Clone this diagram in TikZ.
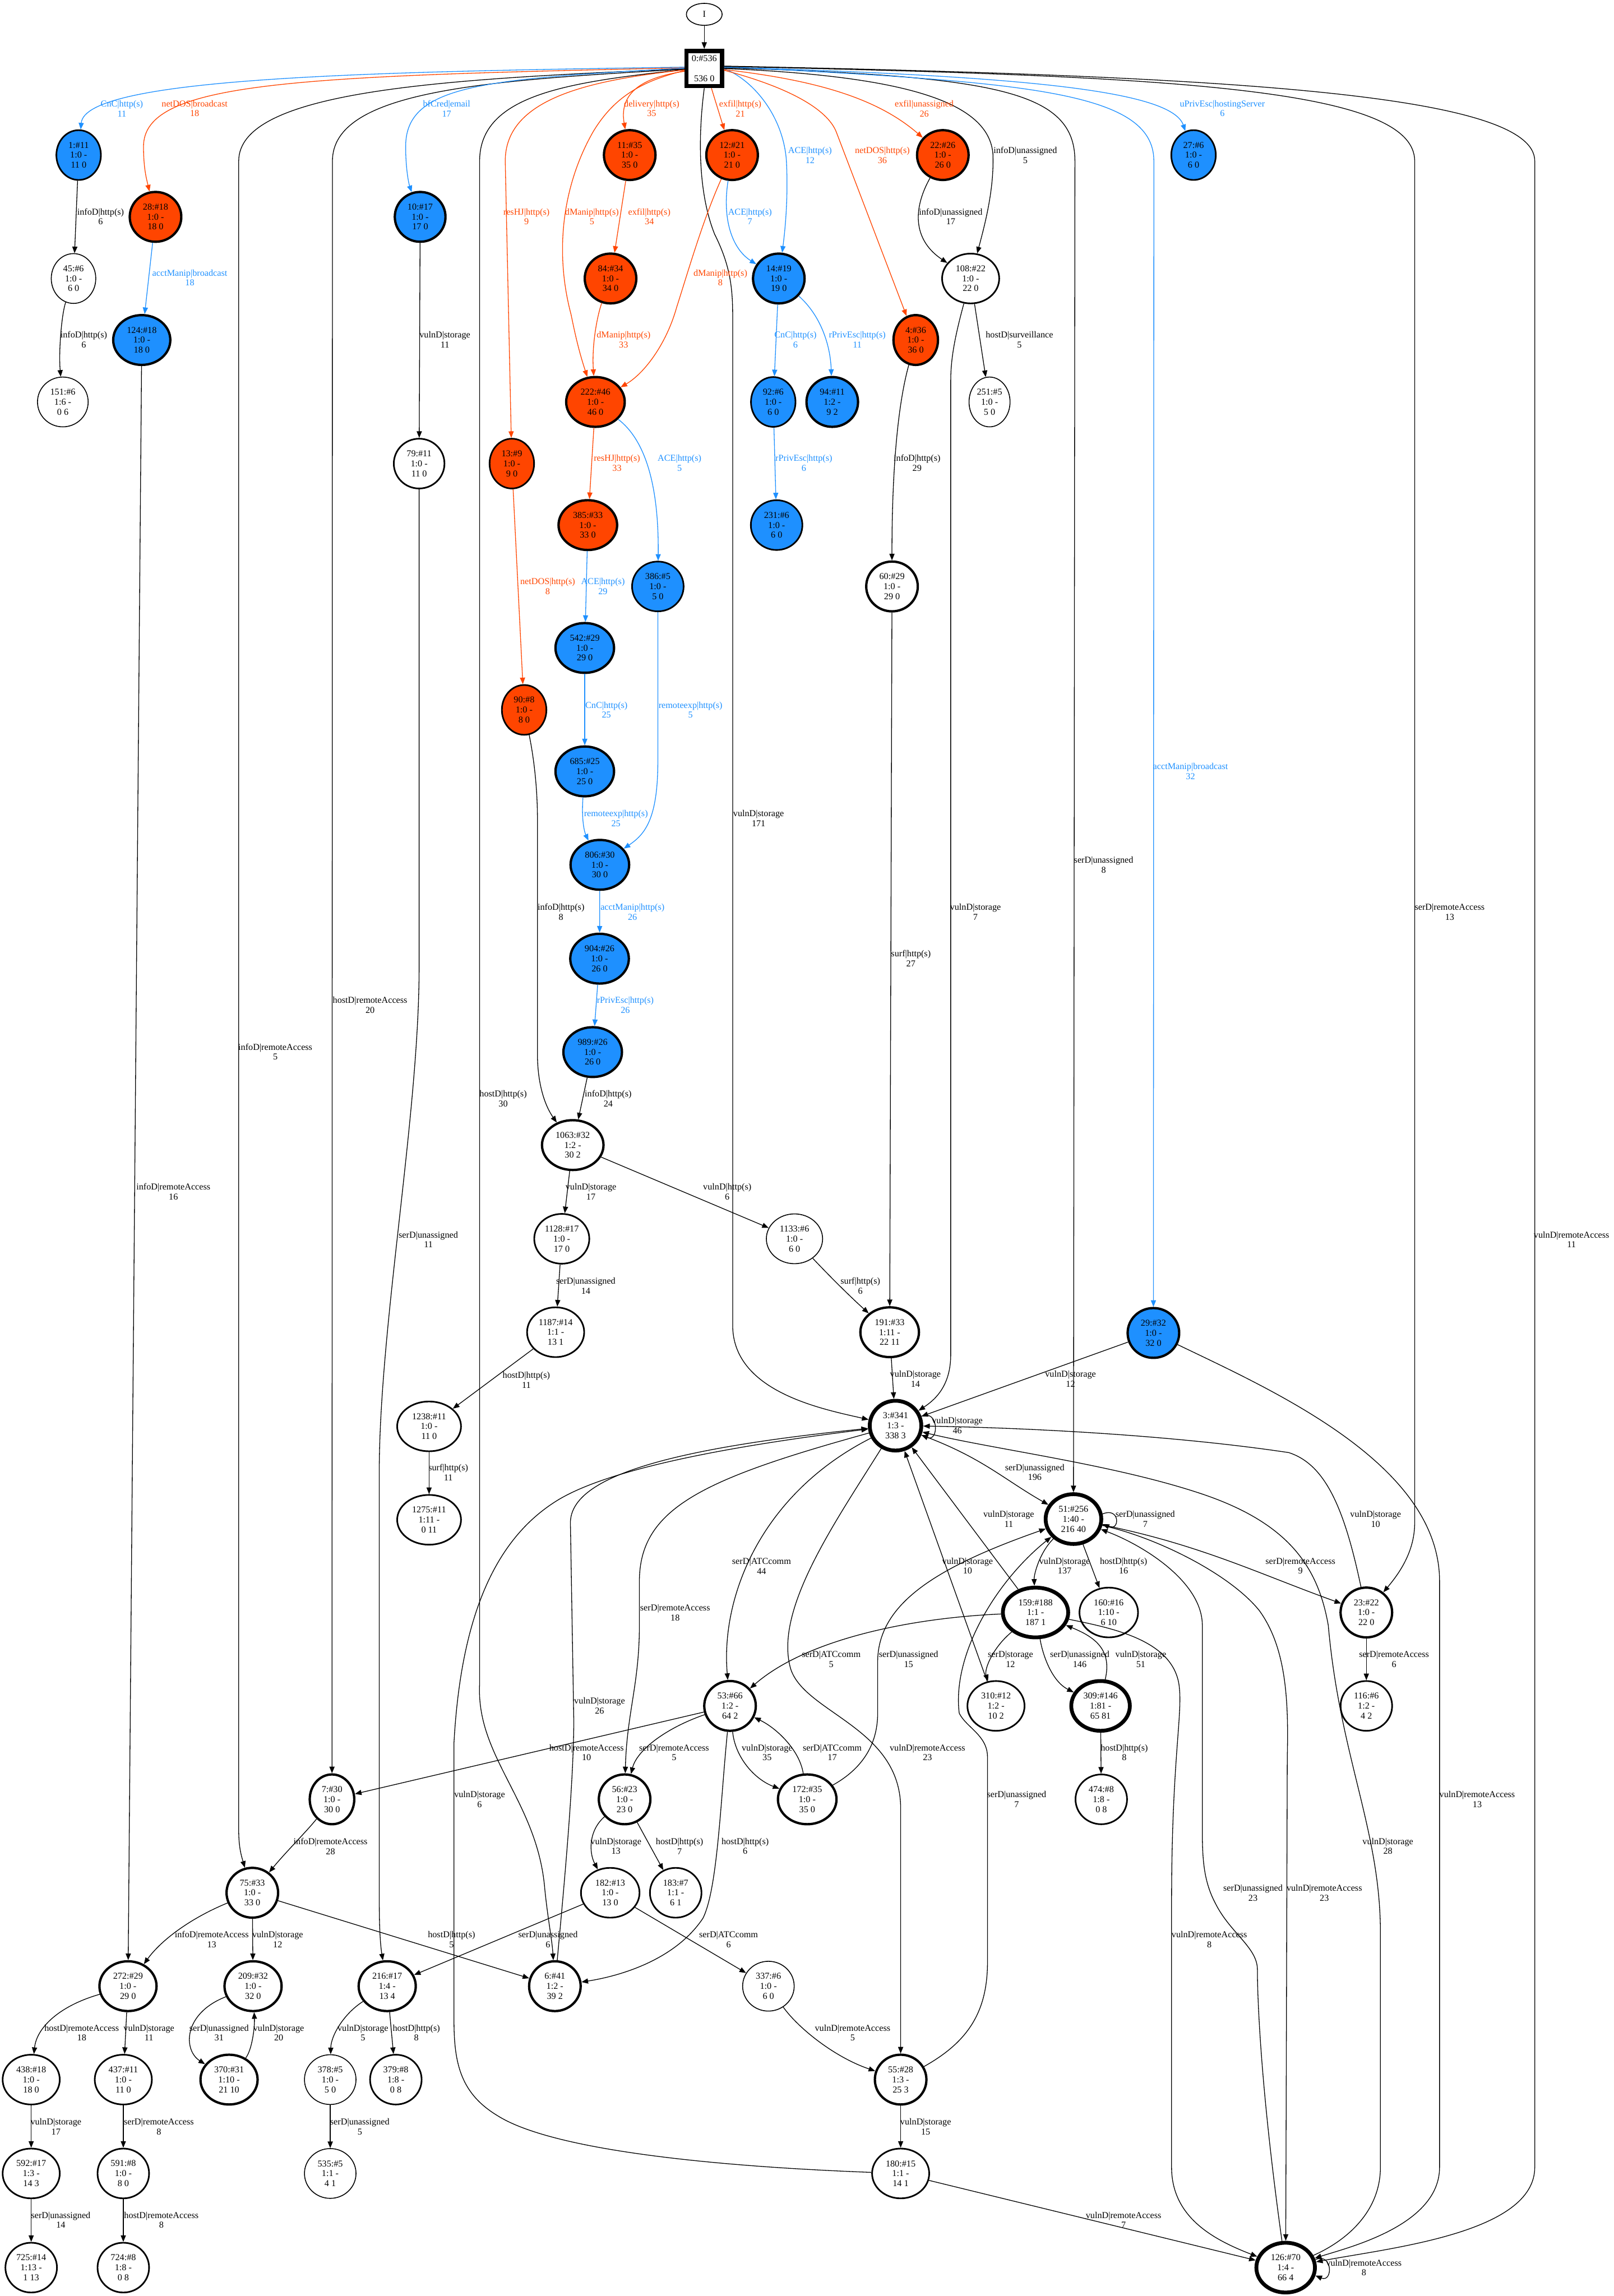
\documentclass[tikz,border=0pt]{standalone}
\usepackage{fontspec}
\setmainfont{Liberation Serif}
\usetikzlibrary{arrows.meta,shapes.geometric}
\definecolor{dblue}{HTML}{1E90FF}
\definecolor{ored}{HTML}{FF4500}
\newcommand\nfont{\fontsize{6.2}{6.8}\selectfont}
\begin{document}
\begin{tikzpicture}[x=1pt,y=-1pt,
 gn/.style={ellipse,draw,inner sep=0pt,minimum height=34pt,align=center,font=\nfont},
 fb/.style={fill=dblue}, fo/.style={fill=ored}, fw/.style={fill=white},
 w1/.style={line width=0.6pt}, w2/.style={line width=1.1pt}, w3/.style={line width=1.6pt}, w4/.style={line width=2.6pt},
 ed/.style={line width=0.5pt,-{Triangle[length=4.5pt,width=3.5pt]}},
 edb/.style={ed,color=dblue}, edo/.style={ed,color=ored},
 lb/.style={align=center,inner sep=0pt,font=\nfont},
 lbb/.style={lb,text=dblue}, lbo/.style={lb,text=ored}]
\useasboundingbox (0,0) rectangle (1102,1568);
% ---------- nodes
\node[draw,line width=0.6pt,ellipse,inner sep=0pt,minimum width=24.4pt,minimum height=15pt,font=\nfont] (nI) at (480.9,9.8) {I};
\node[draw,line width=2.9pt,rectangle,inner sep=0pt,minimum width=24.2pt,minimum height=24pt,align=center,font=\nfont] (n0) at (480.9,46.8) {0:\#536\\[6.8pt]536 0};
\node[gn,fb,w2,minimum width=30.4pt] (n1) at (53.7,105.9) {1:\#11\\1:0 -\\11 0};
\node[gn,fo,w3,minimum width=35.2pt] (n28) at (106.2,148.1) {28:\#18\\1:0 -\\18 0};
\node[gn,fw,w1,minimum width=30.4pt] (n45) at (50.2,190.2) {45:\#6\\1:0 -\\6 0};
\node[gn,fb,w3,minimum width=39pt] (n124) at (96.8,232.2) {124:\#18\\1:0 -\\18 0};
\node[gn,fw,w1,minimum width=34.6pt] (n151) at (42.9,274.5) {151:\#6\\1:6 -\\0 6};
\node[gn,fb,w3,minimum width=34.6pt] (n10) at (286.9,148.1) {10:\#17\\1:0 -\\17 0};
\node[gn,fw,w2,minimum width=34.6pt] (n79) at (286.2,316.6) {79:\#11\\1:0 -\\11 0};
\node[gn,fo,w2,minimum width=30.4pt] (n13) at (349.5,316.6) {13:\#9\\1:0 -\\9 0};
\node[gn,fo,w3,minimum width=35.2pt] (n11) at (430.0,105.9) {11:\#35\\1:0 -\\35 0};
\node[gn,fo,w3,minimum width=35.2pt] (n12) at (499.9,105.9) {12:\#21\\1:0 -\\21 0};
\node[gn,fo,w3,minimum width=35.2pt] (n22) at (643.8,105.9) {22:\#26\\1:0 -\\26 0};
\node[gn,fo,w3,minimum width=35.2pt] (n84) at (416.9,190.2) {84:\#34\\1:0 -\\34 0};
\node[gn,fb,w3,minimum width=35.2pt] (n14) at (531.8,190.2) {14:\#19\\1:0 -\\19 0};
\node[gn,fw,w2,minimum width=39pt] (n108) at (662.8,190.2) {108:\#22\\1:0 -\\22 0};
\node[gn,fo,w3,minimum width=30.4pt] (n4) at (625.3,232.2) {4:\#36\\1:0 -\\36 0};
\node[gn,fo,w3,minimum width=40pt] (n222) at (406.6,274.5) {222:\#46\\1:0 -\\46 0};
\node[gn,fb,w2,minimum width=30.4pt] (n92) at (528,274.5) {92:\#6\\1:0 -\\6 0};
\node[gn,fb,w3,minimum width=35.2pt] (n94) at (568.3,274.5) {94:\#11\\1:2 -\\9 2};
\node[gn,fw,w1,minimum width=28pt] (n251) at (675.7,274.5) {251:\#5\\1:0 -\\5 0};
\node[gn,fo,w3,minimum width=40pt] (n385) at (401.4,358.6) {385:\#33\\1:0 -\\33 0};
\node[gn,fb,w2,minimum width=35.2pt] (n231) at (530.3,358.6) {231:\#6\\1:0 -\\6 0};
\node[gn,fb,w2,minimum width=30.4pt] (n27) at (815.0,105.9) {27:\#6\\1:0 -\\6 0};
\node[gn,fb,w2,minimum width=35.2pt] (n386) at (449.2,400.5) {386:\#5\\1:0 -\\5 0};
\node[gn,fw,w3,minimum width=35.2pt] (n60) at (609.1,400.5) {60:\#29\\1:0 -\\29 0};
\node[gn,fo,w2,minimum width=30.4pt] (n90) at (357.9,484.8) {90:\#8\\1:0 -\\8 0};
\node[gn,fb,w3,minimum width=40pt] (n542) at (399.3,442.5) {542:\#29\\1:0 -\\29 0};
\node[gn,fb,w3,minimum width=40pt] (n685) at (399.3,526.8) {685:\#25\\1:0 -\\25 0};
\node[gn,fb,w3,minimum width=40pt] (n806) at (409.6,590.6) {806:\#30\\1:0 -\\30 0};
\node[gn,fb,w3,minimum width=40pt] (n904) at (409.4,654.7) {904:\#26\\1:0 -\\26 0};
\node[gn,fb,w3,minimum width=40pt] (n989) at (404.7,718.5) {989:\#26\\1:0 -\\26 0};
\node[gn,fw,w3,minimum width=42pt] (n1063) at (391.1,782.0) {1063:\#32\\1:2 -\\30 2};
\node[gn,fw,w2,minimum width=37.6pt] (n1128) at (383.6,846.0) {1128:\#17\\1:0 -\\17 0};
\node[gn,fw,w1,minimum width=38.4pt] (n1133) at (542.5,846.0) {1133:\#6\\1:0 -\\6 0};
\node[gn,fw,w2,minimum width=39pt] (n1187) at (379.4,909.8) {1187:\#14\\1:1 -\\13 1};
\node[gn,fw,w3,minimum width=40pt] (n191) at (607.5,909.8) {191:\#33\\1:11 -\\22 11};
\node[gn,fw,w2,minimum width=43.6pt] (n1238) at (293.0,974.1) {1238:\#11\\1:0 -\\11 0};
\node[gn,fw,w2,minimum width=43.6pt] (n1275) at (293.0,1037.9) {1275:\#11\\1:11 -\\0 11};
\node[gn,fb,w3,minimum width=35.2pt] (n29) at (787.6,910.3) {29:\#32\\1:0 -\\32 0};
\node[gn,fw,w4,minimum width=35.2pt] (n3) at (611.5,973.6) {3:\#341\\1:3 -\\338 3};
\node[gn,fw,w4,minimum width=38pt] (n51) at (733,1037.4) {51:\#256\\1:40 -\\216 40};
\node[gn,fw,w4,minimum width=44.6pt] (n159) at (707.1,1101.2) {159:\#188\\1:1 -\\187 1};
\node[gn,fw,w2,minimum width=40pt] (n160) at (757.1,1101.2) {160:\#16\\1:10 -\\6 10};
\node[gn,fw,w3,minimum width=35.2pt] (n23) at (933.0,1101.2) {23:\#22\\1:0 -\\22 0};
\node[gn,fw,w3,minimum width=35.2pt] (n53) at (498.5,1165.0) {53:\#66\\1:2 -\\64 2};
\node[gn,fw,w2,minimum width=39pt] (n310) at (680.1,1165.0) {310:\#12\\1:2 -\\10 2};
\node[gn,fw,w4,minimum width=40pt] (n309) at (751.5,1165.0) {309:\#146\\1:81 -\\65 81};
\node[gn,fw,w2,minimum width=35.2pt] (n116) at (933.0,1165.0) {116:\#6\\1:2 -\\4 2};
\node[gn,fw,w3,minimum width=30.4pt] (n7) at (226.7,1228.8) {7:\#30\\1:0 -\\30 0};
\node[gn,fw,w3,minimum width=35.2pt] (n56) at (426.5,1228.8) {56:\#23\\1:0 -\\23 0};
\node[gn,fw,w3,minimum width=40pt] (n172) at (551.2,1228.8) {172:\#35\\1:0 -\\35 0};
\node[gn,fw,w2,minimum width=35.2pt] (n474) at (752.0,1228.8) {474:\#8\\1:8 -\\0 8};
\node[gn,fw,w3,minimum width=35.2pt] (n75) at (172.3,1292.6) {75:\#33\\1:0 -\\33 0};
\node[gn,fw,w2,minimum width=40pt] (n182) at (416.7,1292.6) {182:\#13\\1:0 -\\13 0};
\node[gn,fw,w2,minimum width=35.2pt] (n183) at (461.4,1292.6) {183:\#7\\1:1 -\\6 1};
\node[gn,fw,w3,minimum width=39pt] (n272) at (87.4,1356.4) {272:\#29\\1:0 -\\29 0};
\node[gn,fw,w3,minimum width=39pt] (n209) at (172.8,1356.4) {209:\#32\\1:0 -\\32 0};
\node[gn,fw,w3,minimum width=39pt] (n216) at (264.4,1356.4) {216:\#17\\1:4 -\\13 4};
\node[gn,fw,w3,minimum width=35.2pt] (n6) at (378.9,1356.4) {6:\#41\\1:2 -\\39 2};
\node[gn,fw,w1,minimum width=35.2pt] (n337) at (524.7,1356.4) {337:\#6\\1:0 -\\6 0};
\node[gn,fw,w2,minimum width=39pt] (n438) at (21.3,1420.2) {438:\#18\\1:0 -\\18 0};
\node[gn,fw,w2,minimum width=39pt] (n437) at (84.2,1420.2) {437:\#11\\1:0 -\\11 0};
\node[gn,fw,w3,minimum width=39pt] (n370) at (156.4,1420.2) {370:\#31\\1:10 -\\21 10};
\node[gn,fw,w1,minimum width=35.2pt] (n378) at (225.5,1420.2) {378:\#5\\1:0 -\\5 0};
\node[gn,fw,w2,minimum width=35.2pt] (n379) at (270.3,1420.2) {379:\#8\\1:8 -\\0 8};
\node[gn,fw,w3,minimum width=35.2pt] (n55) at (615.0,1420.2) {55:\#28\\1:3 -\\25 3};
\node[gn,fw,w2,minimum width=39pt] (n592) at (21.3,1484.3) {592:\#17\\1:3 -\\14 3};
\node[gn,fw,w2,minimum width=35.2pt] (n591) at (84.2,1484.3) {591:\#8\\1:0 -\\8 0};
\node[gn,fw,w1,minimum width=35.2pt] (n535) at (225.5,1484.3) {535:\#5\\1:1 -\\4 1};
\node[gn,fw,w2,minimum width=39pt] (n180) at (615.0,1484.3) {180:\#15\\1:1 -\\14 1};
\node[gn,fw,w2,minimum width=35.2pt] (n725) at (21.3,1548.6) {725:\#14\\1:13 -\\1 13};
\node[gn,fw,w2,minimum width=35.2pt] (n724) at (84.2,1548.6) {724:\#8\\1:8 -\\0 8};
\node[gn,fw,w4,minimum width=40pt] (n126) at (877.9,1548.6) {126:\#70\\1:4 -\\66 4};
% ---------- edges from root
\draw[ed] (nI) -- (n0);
\draw[edb] (n0.176) .. controls (250,49) and (58,53) .. (n1);
\draw[edo] (n0.178) .. controls (200,52) and (98,56) .. (98,100) .. controls (98,115) and (100,122) .. (n28);
\draw[ed] (n0.181) .. controls (300,54) and (163,62) .. (163,110) -- (163,1250) .. controls (163,1262) and (165,1268) .. (n75);
\draw[ed] (n0.182) .. controls (330,55) and (227,62) .. (227,110) -- (n7);
\draw[edb] (n0.179) .. controls (330,54) and (277,58) .. (277,100) .. controls (277,115) and (279,125) .. (n10);
\draw[ed] (n0.183) .. controls (390,56) and (327.5,64) .. (327.5,110) -- (327.5,1150) .. controls (325,1200) and (367,1230) .. (372,1290) .. controls (374,1310) and (377,1325) .. (n6);
\draw[edo] (n0.184) .. controls (400,55) and (345,68) .. (345,110) -- (n13);
\draw[edo] (n0.186) .. controls (440,55) and (420,65) .. (405,90) .. controls (385,125) and (378,170) .. (390,215) .. controls (394,235) and (397,245) .. (n222);
\draw[edo] (n0.188) .. controls (445,52) and (422,60) .. (n11);
\draw[ed] (n0.south) .. controls (477,90) and (476,130) .. (488,160) .. controls (498,180) and (500.3,195) .. (500.3,215) -- (500.3,905) .. controls (500.3,950) and (560,962) .. (n3);
\draw[edo] (n0.-70) -- (n12);
\draw[edb] (n0.east) .. controls (515,55) and (535,80) .. (537,110) .. controls (538,130) and (537,150) .. (n14);
\draw[edo] (n0.-5) .. controls (540,60) and (565,75) .. (571,90) -- (n4);
\draw[edo] (n0.-3) .. controls (560,55) and (600,68) .. (n22);
\draw[ed] (n0.0) .. controls (620,52) and (675,70) .. (678,105) .. controls (679,130) and (672,155) .. (n108);
\draw[ed] (n0.2) .. controls (680,52) and (734,62) .. (734,110) -- (n51);
\draw[edb] (n0.4) .. controls (700,52) and (800,62) .. (n27);
\draw[edb] (n0.5) .. controls (700,56) and (787.9,62) .. (787.9,110) -- (n29);
\draw[ed] (n0.6) .. controls (800,52) and (966,60) .. (966,110) -- (966,1040) .. controls (966,1060) and (955,1075) .. (n23);
\draw[ed] (n0.7) .. controls (850,52) and (1048,65) .. (1048,110) -- (1048,1480) .. controls (1048,1525) and (950,1535) .. (n126);
% ---------- upper edges
\draw[ed] (n1) -- (n45);
\draw[ed] (n45) .. controls (42,215) and (40,240) .. (n151);
\draw[edb] (n28) -- (n124);
\draw[ed] (n124) -- (n272);
\draw[ed] (n10) -- (n79);
\draw[ed] (n79) -- (286.2,660) .. controls (286.2,760) and (260,900) .. (259,1000) -- (259,1300) .. controls (259,1320) and (260,1330) .. (n216);
\draw[edo] (n13) -- (n90);
\draw[ed] (n90) .. controls (365,520) and (367,540) .. (367,560) -- (367,720) .. controls (367,740) and (372,755) .. (n1063);
\draw[edo] (n11) -- (n84);
\draw[edo] (n84) .. controls (408,215) and (404,235) .. (n222);
\draw[edo] (n12) .. controls (480,150) and (470,185) .. (462,210) .. controls (455,235) and (440,255) .. (n222);
\draw[edb] (n12) .. controls (493,150) and (500,170) .. (n14);
\draw[edb] (n14) -- (n92);
\draw[edb] (n14) .. controls (560,215) and (567,235) .. (n94);
\draw[edb] (n92) -- (n231);
\draw[ed] (n22) .. controls (622,145) and (625,165) .. (n108);
\draw[ed] (n108) -- (n251);
\draw[ed] (n108) .. controls (652,230) and (649.2,245) .. (649.2,260) -- (649.2,925) .. controls (649.2,945) and (640,955) .. (n3);
\draw[ed] (n4) .. controls (612,280) and (609,330) .. (n60);
\draw[edo] (n222) -- (n385);
\draw[edb] (n222) .. controls (440,300) and (450,330) .. (n386);
\draw[edb] (n385) -- (n542);
\draw[edb] (n542) -- (n685);
\draw[edb] (n685) .. controls (397,560) and (399,568) .. (n806);
\draw[edb] (n386) -- (449.2,520) .. controls (449.2,560) and (440,570) .. (n806);
\draw[edb] (n806) -- (n904);
\draw[edb] (n904) -- (n989);
\draw[ed] (n989) -- (n1063);
\draw[ed] (n60) -- (n191);
\draw[ed] (n1063) -- (n1128);
\draw[ed] (n1063) -- (n1133);
\draw[ed] (n1128) -- (n1187);
\draw[ed] (n1133) .. controls (565,870) and (580,885) .. (n191);
\draw[ed] (n1187) -- (n1238);
\draw[ed] (n1238) -- (n1275);
\draw[ed] (n191) -- (n3);
\draw[ed] (n29) -- (n3);
\draw[ed] (n29) .. controls (870,950) and (983,1000) .. (983,1080) -- (983,1480) .. controls (983,1520) and (920,1535) .. (n126);
% ---------- middle cluster
\draw[ed] (n3.20) .. controls +(12,-5) and +(12,5) .. (n3.-20);
\draw[ed] (n3) .. controls (670,995) and (685,1010) .. (n51);
\draw[ed] (n159) -- (n3);
\draw[ed] (n310) -- (n3);
\draw[ed] (n159) .. controls (678,1125) and (672,1140) .. (n310);
\draw[ed] (n51) .. controls (710,1060) and (706,1075) .. (n159);
\draw[ed] (n51.10) .. controls +(12,-5) and +(12,5) .. (n51.-10);
\draw[ed] (n51) -- (n160);
\draw[ed] (n51) .. controls (820,1055) and (860,1075) .. (n23);
\draw[ed] (n23) .. controls (918,1030) and (905,1000) .. (880,992) .. controls (800,980) and (700,975) .. (n3);
\draw[ed] (n23) -- (n116);
\draw[ed] (n159) .. controls (620,1105) and (550,1120) .. (n53);
\draw[ed] (n159) .. controls (712,1130) and (718,1148) .. (n309);
\draw[ed] (n309.80) .. controls (760,1125) and (745,1117) .. (n159);
\draw[ed] (n309) -- (n474);
\draw[ed] (n3) .. controls (520,1020) and (492,1090) .. (n53);
\draw[ed] (n3) .. controls (480,1010) and (436.6,1030) .. (436.6,1080) -- (436.6,1110) .. controls (436.6,1150) and (428,1170) .. (n56);
\draw[ed] (n6) .. controls (384,1300) and (391.8,1220) .. (391.8,1175) -- (389.5,1040) .. controls (389.5,1010) and (450,990) .. (n3);
\draw[ed] (n180) .. controls (500,1480) and (380,1470) .. (340,1445) .. controls (315,1430) and (310,1410) .. (310,1380) -- (310,1190) .. controls (315,1100) and (340,1050) .. (380,1025) .. controls (420,1000) and (520,985) .. (n3);
\draw[ed] (n3) .. controls (570,1040) and (528,1100) .. (540,1140) .. controls (550,1170) and (615,1180) .. (615,1235) -- (n55);
\draw[ed] (n172) .. controls (585,1210) and (599.3,1195) .. (599.3,1170) -- (599.3,1135) .. controls (599.3,1095) and (640,1070) .. (n51);
\draw[ed] (n55) .. controls (660,1395) and (674.3,1375) .. (674.3,1340) -- (674.3,1200) .. controls (674.3,1185) and (660,1180) .. (655,1170) .. controls (650,1130) and (680,1080) .. (n51);
\draw[ed] (n53) -- (n7);
\draw[ed] (n53) .. controls (455,1180) and (435,1195) .. (n56);
\draw[ed] (n53) .. controls (502,1200) and (515,1215) .. (n172);
\draw[ed] (n172) .. controls (546,1195) and (530,1180) .. (n53);
\draw[ed] (n53) .. controls (492,1230) and (490,1290) .. (480,1310) .. controls (460,1340) and (420,1350) .. (n6);
\draw[ed] (n56) .. controls (402,1250) and (402,1265) .. (n182);
\draw[ed] (n56) -- (n183);
\draw[ed] (n182) -- (n216);
\draw[ed] (n182) -- (n337);
\draw[ed] (n337) .. controls (545,1385) and (570,1405) .. (n55);
\draw[ed] (n55) -- (n180);
\draw[ed] (n180) -- (n126);
\draw[ed] (n126.15) .. controls +(12,-5) and +(12,5) .. (n126.-15);
\draw[ed] (n126) .. controls (860,1420) and (858.6,1360) .. (858.6,1345) .. controls (858.6,1330) and (840,1320) .. (830,1300) .. controls (822,1285) and (821,1270) .. (821,1250) -- (821,1110) .. controls (821,1080) and (780,1055) .. (n51);
\draw[ed] (n51) .. controls (790,1050) and (840,1075) .. (860,1100) .. controls (878,1125) and (880,1160) .. (879,1200) -- (n126);
\draw[ed] (n159) .. controls (760,1112) and (800,1120) .. (805,1150) .. controls (808,1170) and (800,1200) .. (800,1300) -- (800,1480) .. controls (800,1515) and (830,1530) .. (n126);
\draw[ed] (n126) .. controls (920,1530) and (942.6,1510) .. (942.6,1480) -- (942.6,1320) .. controls (942.6,1250) and (915,1200) .. (907,1110) .. controls (900,1070) and (880,1040) .. (820,1020) .. controls (760,1000) and (680,990) .. (n3);
% ---------- lower left
\draw[ed] (n7) .. controls (210,1250) and (195,1265) .. (n75);
\draw[ed] (n75) .. controls (130,1310) and (110,1325) .. (n272);
\draw[ed] (n75) -- (n209);
\draw[ed] (n75) -- (n6);
\draw[ed] (n272) .. controls (40,1370) and (25,1385) .. (n438);
\draw[ed] (n272) -- (n437);
\draw[ed] (n209) .. controls (125,1375) and (125,1400) .. (n370);
\draw[ed] (n370) .. controls (172,1400) and (174,1385) .. (n209);
\draw[ed] (n216) .. controls (235,1375) and (226,1390) .. (n378);
\draw[ed] (n216) -- (n379);
\draw[ed] (n438) -- (n592);
\draw[ed] (n592) -- (n725);
\draw[ed] (n437) -- (n591);
\draw[ed] (n591) -- (n724);
\draw[ed] (n378) -- (n535);
% ---------- labels
\node[lbb] (l1) at (83.2,74.1) {CnC|http(s)\\11};
\node[lbo] (l2) at (132.9,74.1) {netDOS|broadcast\\18};
\node[lb] (l3) at (68.7,147.9) {infoD|http(s)\\6};
\node[lbb] (l4) at (129.6,189.7) {acctManip|broadcast\\18};
\node[lb] (l5) at (57.2,232) {infoD|http(s)\\6};
\node[lbb] (l6) at (305,74.1) {bfCred|email\\17};
\node[lb] (l7) at (303.8,232) {vulnD|storage\\11};
\node[lbo] (l8) at (359.5,147.9) {resHJ|http(s)\\9};
\node[lbo] (l9) at (445,74.1) {delivery|http(s)\\35};
\node[lbo] (l10) at (505.5,74.1) {exfil|http(s)\\21};
\node[lbo] (l11) at (631.1,74.1) {exfil|unassigned\\26};
\node[lbb] (l12) at (553.1,105.9) {ACE|http(s)\\12};
\node[lbo] (l13) at (602.5,105.9) {netDOS|http(s)\\36};
\node[lb] (l14) at (700.1,105.9) {infoD|unassigned\\5};
\node[lbo] (l15) at (404.2,147.9) {dManip|http(s)\\5};
\node[lbo] (l16) at (443.4,147.9) {exfil|http(s)\\34};
\node[lbb] (l17) at (512.1,147.9) {ACE|http(s)\\7};
\node[lb] (l18) at (649.2,147.9) {infoD|unassigned\\17};
\node[lbo] (l19) at (491.9,189.7) {dManip|http(s)\\8};
\node[lbo] (l20) at (425.8,232) {dManip|http(s)\\33};
\node[lbb] (l21) at (543.2,232) {CnC|http(s)\\6};
\node[lbb] (l22) at (585.4,232) {rPrivEsc|http(s)\\11};
\node[lb] (l23) at (696.1,232) {hostD|surveillance\\5};
\node[lbo] (l24) at (421.3,316.1) {resHJ|http(s)\\33};
\node[lbb] (l25) at (464,316.1) {ACE|http(s)\\5};
\node[lbb] (l26) at (548.9,316.1) {rPrivEsc|http(s)\\6};
\node[lb] (l27) at (626.2,316.1) {infoD|http(s)\\29};
\node[lbb] (l28) at (834.7,74.1) {uPrivEsc|hostingServer\\6};
\node[lbo] (l29) at (374,400.5) {netDOS|http(s)\\8};
\node[lbb] (l30) at (411.7,400.5) {ACE|http(s)\\29};
\node[lbb] (l31) at (414.1,484.8) {CnC|http(s)\\25};
\node[lbb] (l32) at (471.5,484.8) {remoteexp|http(s)\\5};
\node[lbb] (l33) at (420.6,558.9) {remoteexp|http(s)\\25};
\node[lb] (l34) at (518,558.9) {vulnD|storage\\171};
\node[lb] (l35) at (383.1,622.7) {infoD|http(s)\\8};
\node[lbb] (l36) at (431.9,622.7) {acctManip|http(s)\\26};
\node[lb] (l37) at (666.1,622.7) {vulnD|storage\\7};
\node[lb] (l38) at (622,654.5) {surf|http(s)\\27};
\node[lbb] (l39) at (427,686.5) {rPrivEsc|http(s)\\26};
\node[lb] (l40) at (415.3,750.3) {infoD|http(s)\\24};
\node[lb] (l41) at (252.7,686.5) {hostD|remoteAccess\\20};
\node[lb] (l42) at (188,718.3) {infoD|remoteAccess\\5};
\node[lb] (l43) at (343.6,750.3) {hostD|http(s)\\30};
\node[lb] (l44) at (753.6,590.6) {serD|unassigned\\8};
\node[lbb] (l45) at (812.9,526.8) {acctManip|broadcast\\32};
\node[lb] (l46) at (989.9,622.7) {serD|remoteAccess\\13};
\node[lb] (l47) at (118.4,813.9) {infoD|remoteAccess\\16};
\node[lb] (l48) at (292.5,846.5) {serD|unassigned\\11};
\node[lb] (l49) at (359.4,942.3) {hostD|http(s)\\11};
\node[lb] (l50) at (306.1,1005.6) {surf|http(s)\\11};
\node[lb] (l51) at (403.5,813.9) {vulnD|storage\\17};
\node[lb] (l52) at (496.6,813.9) {vulnD|http(s)\\6};
\node[lb] (l53) at (400,878) {serD|unassigned\\14};
\node[lb] (l54) at (587.5,878) {surf|http(s)\\6};
\node[lb] (l55) at (625.1,941.8) {vulnD|storage\\14};
\node[lb] (l56) at (731,941.8) {vulnD|storage\\12};
\node[lb] (l57) at (653.7,973.6) {vulnD|storage\\46};
\node[lb] (l58) at (706.6,1005.4) {serD|unassigned\\196};
\node[lb] (l59) at (688.8,1037.4) {vulnD|storage\\11};
\node[lb] (l60) at (520,1069.4) {serD|ATCcomm\\44};
\node[lb] (l61) at (660.7,1069.4) {vulnD|storage\\10};
\node[lb] (l62) at (727,1069.4) {vulnD|storage\\137};
\node[lb] (l63) at (461,1101.2) {serD|remoteAccess\\18};
\node[lb] (l64) at (567.6,1133.2) {serD|ATCcomm\\5};
\node[lb] (l65) at (620.4,1133.2) {serD|unassigned\\15};
\node[lb] (l66) at (690,1133.2) {serD|storage\\12};
\node[lb] (l67) at (737.3,1133.2) {serD|unassigned\\146};
\node[lb] (l68) at (409.4,1165) {vulnD|storage\\26};
\node[lb] (l69) at (1073.1,846.5) {vulnD|remoteAccess\\11};
\node[lb] (l70) at (782,1037.4) {serD|unassigned\\7};
\node[lb] (l71) at (767.2,1069.4) {hostD|http(s)\\16};
\node[lb] (l72) at (939.3,1037.4) {vulnD|storage\\10};
\node[lb] (l73) at (888,1069.4) {serD|remoteAccess\\9};
\node[lb] (l74) at (779,1133.2) {vulnD|storage\\51};
\node[lb] (l75) at (951.9,1133.2) {serD|remoteAccess\\6};
\node[lb] (l76) at (225.7,1260.8) {infoD|remoteAccess\\28};
\node[lb] (l77) at (144.6,1324.4) {infoD|remoteAccess\\13};
\node[lb] (l78) at (189.6,1324.4) {vulnD|storage\\12};
\node[lb] (l79) at (308.3,1324.4) {hostD|http(s)\\5};
\node[lb] (l80) at (55.8,1388.2) {hostD|remoteAccess\\18};
\node[lb] (l81) at (101.7,1388.2) {vulnD|storage\\11};
\node[lb] (l82) at (149.6,1388.2) {serD|unassigned\\31};
\node[lb] (l83) at (190.3,1388.2) {vulnD|storage\\20};
\node[lb] (l84) at (247.8,1388.2) {vulnD|storage\\5};
\node[lb] (l85) at (284.3,1388.2) {hostD|http(s)\\8};
\node[lb] (l86) at (38.2,1452.3) {vulnD|storage\\17};
\node[lb] (l87) at (108.5,1452.3) {serD|remoteAccess\\8};
\node[lb] (l88) at (245.7,1452.3) {serD|unassigned\\5};
\node[lb] (l89) at (41.5,1516.1) {serD|unassigned\\14};
\node[lb] (l90) at (110.2,1516.1) {hostD|remoteAccess\\8};
\node[lb] (l91) at (327.5,1228.8) {vulnD|storage\\6};
\node[lb] (l92) at (400.5,1196.8) {hostD|remoteAccess\\10};
\node[lb] (l93) at (460.3,1196.8) {serD|remoteAccess\\5};
\node[lb] (l94) at (523.8,1196.8) {vulnD|storage\\35};
\node[lb] (l95) at (568.3,1196.8) {serD|ATCcomm\\17};
\node[lb] (l96) at (633.3,1196.8) {vulnD|remoteAccess\\23};
\node[lb] (l97) at (694.2,1228.8) {serD|unassigned\\7};
\node[lb] (l98) at (420.6,1260.8) {vulnD|storage\\13};
\node[lb] (l99) at (464,1260.8) {hostD|http(s)\\7};
\node[lb] (l100) at (508.8,1260.8) {hostD|http(s)\\6};
\node[lb] (l101) at (374.2,1324.4) {serD|unassigned\\6};
\node[lb] (l102) at (497.5,1324.4) {serD|ATCcomm\\6};
\node[lb] (l103) at (582.2,1388.2) {vulnD|remoteAccess\\5};
\node[lb] (l104) at (632.1,1452.3) {vulnD|storage\\15};
\node[lb] (l105) at (767.7,1196.8) {hostD|http(s)\\8};
\node[lb] (l106) at (1008.7,1228.8) {vulnD|remoteAccess\\13};
\node[lb] (l107) at (947.7,1260.8) {vulnD|storage\\28};
\node[lb] (l108) at (855.6,1292.6) {serD|unassigned\\23};
\node[lb] (l109) at (904.3,1292.6) {vulnD|remoteAccess\\23};
\node[lb] (l110) at (825.8,1324.4) {vulnD|remoteAccess\\8};
\node[lb] (l111) at (767.2,1516.1) {vulnD|remoteAccess\\7};
\node[lb] (l112) at (931.3,1548.6) {vulnD|remoteAccess\\8};
\end{tikzpicture}
\end{document}
